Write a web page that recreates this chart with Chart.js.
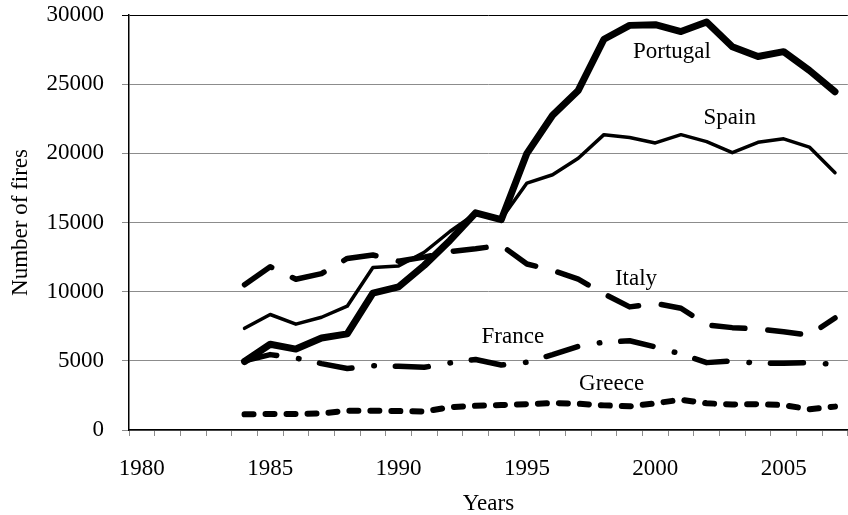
<!DOCTYPE html>
<html>
<head>
<meta charset="utf-8">
<title>Number of fires</title>
<script src="https://cdn.jsdelivr.net/npm/chart.js@4.4.1/dist/chart.umd.min.js"></script>
<style>
    html, body {
        margin: 0;
        padding: 0;
        background: #ffffff;
        overflow: hidden;
    }
    .chart-box {
        position: relative;
        width: 854px;
        height: 515px;
    }
</style>
</head>
<body>
<div class="chart-box">
    <canvas id="firesChart"></canvas>
</div>
<script>
// category axis runs 1980-2007, data starts in 1984
const axisYears = [1980, 1981, 1982, 1983, 1984, 1985, 1986, 1987, 1988, 1989,
    1990, 1991, 1992, 1993, 1994, 1995, 1996, 1997, 1998, 1999,
    2000, 2001, 2002, 2003, 2004, 2005, 2006, 2007];
const dataYears = [1984, 1985, 1986, 1987, 1988, 1989, 1990, 1991, 1992, 1993, 1994, 1995,
    1996, 1997, 1998, 1999, 2000, 2001, 2002, 2003, 2004, 2005, 2006, 2007];

const portugal = [4950, 6200, 5850, 6650, 6950, 9900, 10350, 11900, 13700, 15700, 15200, 20000,
    22750, 24550, 28250, 29250, 29300, 28800, 29500, 27700, 27000, 27350, 26000, 24450];
const spain = [7350, 8350, 7650, 8150, 8950, 11750, 11850, 12850, 14350, 15650, 15250, 17850,
    18450, 19650, 21350, 21150, 20750, 21350, 20850, 20050, 20800, 21050, 20450, 18600];
const italy = [10500, 11800, 10900, 11300, 12400, 12650, 12200, 12500, 12900, 13100, 13350, 12000,
    11550, 10900, 9850, 8900, 9150, 8800, 7600, 7400, 7300, 7100, 6850, 8100];
const france = [5000, 5450, 5200, 4800, 4450, 4650, 4600, 4530, 4850, 5100, 4700, 4900,
    5450, 6050, 6350, 6450, 6000, 5500, 4870, 5000, 4820, 4820, 4870, 4750];
const greece = [1130, 1160, 1160, 1200, 1400, 1400, 1370, 1330, 1650, 1750, 1800, 1870,
    1950, 1900, 1780, 1710, 1930, 2190, 1930, 1850, 1870, 1800, 1500, 1690];

const yTicks = [0, 5000, 10000, 15000, 20000, 25000, 30000];

// in-plot series names: [text, year position, value at baseline]
const seriesNames = [
    ['Portugal', 2000.65, 26900],
    ['Spain', 2002.9, 22150],
    ['Italy', 1999.25, 10450],
    ['France', 1994.45, 6260],
    ['Greece', 1998.3, 2870]
];

const FONT = '"Liberation Serif", "Times New Roman", serif';

function toPoints(values) {
    return dataYears.map((yr, i) => ({ x: String(yr), y: values[i] }));
}

function lineSet(label, values, width, dash) {
    return {
        label,
        data: toPoints(values),
        borderColor: '#000000',
        borderWidth: width,
        borderDash: dash,
        borderCapStyle: 'round',
        borderJoinStyle: 'round',
        pointRadius: 0,
        tension: 0,
        fill: false
    };
}

const seriesNamePlugin = {
    id: 'seriesNames',
    afterDatasetsDraw(chart) {
        const { ctx, scales } = chart;
        ctx.save();
        ctx.font = '23px ' + FONT;
        ctx.fillStyle = '#000000';
        ctx.textAlign = 'center';
        ctx.textBaseline = 'alphabetic';
        seriesNames.forEach(([text, yr, val]) => {
            const x = scales.x.getPixelForValue(yr - axisYears[0]);
            const y = scales.y.getPixelForValue(val);
            ctx.fillText(text, x, y);
        });
        ctx.restore();
    }
};

Chart.defaults.font.family = FONT;
Chart.defaults.font.size = 23;
Chart.defaults.color = '#000000';

new Chart(document.getElementById('firesChart'), {
    type: 'line',
    data: {
        labels: axisYears.map(String),
        datasets: [
            lineSet('Greece', greece, 6, [9, 12]),
            lineSet('France', france, 5.5, [33, 22, 0.5, 21]),
            lineSet('Italy', italy, 5.5, [33, 23]),
            lineSet('Spain', spain, 3.5, []),
            lineSet('Portugal', portugal, 7, [])
        ]
    },
    options: {
        responsive: true,
        maintainAspectRatio: false,
        animation: false,
        layout: {
            padding: { top: 0, right: 0, bottom: 0, left: 0 }
        },
        plugins: {
            legend: { display: false },
            tooltip: { enabled: false }
        },
        scales: {
            x: {
                type: 'category',
                offset: true,
                grid: {
                    offset: true,
                    drawOnChartArea: false,
                    drawTicks: true,
                    tickLength: 6,
                    color: '#8c8c8c'
                },
                border: {
                    display: true,
                    color: '#000000',
                    width: 1.5
                },
                ticks: {
                    autoSkip: false,
                    maxRotation: 0,
                    minRotation: 0,
                    padding: 19,
                    callback(value, index) {
                        const yr = axisYears[index];
                        return yr % 5 === 0 ? String(yr) : '';
                    }
                },
                title: {
                    display: true,
                    text: 'Years',
                    font: { lineHeight: 1 },
                    padding: { top: 0, bottom: 0 }
                },
                afterFit(scale) {
                    scale.height = 85;
                }
            },
            y: {
                min: 0,
                max: 30000,
                afterBuildTicks(scale) {
                    scale.ticks = yTicks.map((v) => ({ value: v }));
                },
                grid: {
                    color(ctx) {
                        return ctx.tick && ctx.tick.value === 30000 ? '#000000' : '#8c8c8c';
                    },
                    tickLength: 7,
                    lineWidth: 1
                },
                border: {
                    display: true,
                    color: '#000000',
                    width: 1.5
                },
                ticks: {
                    padding: 18,
                    callback(value) {
                        return String(value);
                    }
                },
                title: {
                    display: true,
                    text: 'Number of fires',
                    padding: { top: 7, bottom: 0 }
                },
                afterFit(scale) {
                    scale.width = 129;
                    scale.paddingTop = 15;
                    scale.paddingBottom = 0;
                }
            }
        }
    },
    plugins: [seriesNamePlugin]
});
</script>
</body>
</html>
